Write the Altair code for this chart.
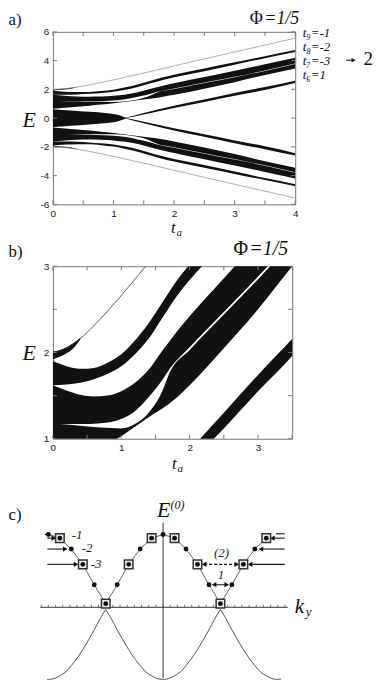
import altair as alt
import pandas as pd

SERIF = "Liberation Serif"
SANS = "Liberation Sans"
INK = "#111111"
FRAME = "#777777"

# ---------------- panels a/b: band edges of the upper half (E > 0) ----------------
t_grid = [0, 0.2, 0.4, 0.6, 0.8, 1.0, 1.2, 1.4, 1.6, 1.8, 2.0, 2.5, 3.0, 3.5, 4.0]
t9_line = [2.0, 2.05, 2.16, 2.31, 2.48, 2.66, 2.85, 3.04, 3.23, 3.43, 3.63, 4.12, 4.6, 5.08, 5.56]
t8_hi = [1.9, 1.84, 1.81, 1.82, 1.88, 1.98, 2.14, 2.34, 2.58, 2.82, 3.02, 3.45, 3.88, 4.31, 4.74]
t8_lo = [1.62, 1.63, 1.65, 1.69, 1.75, 1.84, 1.98, 2.16, 2.4, 2.64, 2.84, 3.26, 3.72, 4.17, 4.6]
t7_hi = [1.62, 1.56, 1.51, 1.49, 1.5, 1.55, 1.65, 1.8, 2.02, 2.23, 2.42, 2.86, 3.3, 3.74, 4.2]
t7_lo = [0.66, 0.72, 0.79, 0.86, 0.94, 1.03, 1.14, 1.25, 1.35, 1.47, 1.62, 2.05, 2.5, 3.0, 3.46]

t_blob = [0, 0.1, 0.2, 0.3, 0.4]
blob_hi = [2.01, 2.03, 2.06, 2.11, 2.17]
blob_lo = [1.92, 1.95, 1.99, 2.05, 2.15]

t_gap = [0.1, 0.4, 0.7, 1.0, 1.2, 1.4, 1.6, 1.71, 2.0, 2.5, 3.0, 3.5, 4.0]
gap_hi = [1.17, 1.17, 1.18, 1.23, 1.32, 1.48, 1.68, 1.81, 2.06, 2.47, 2.88, 3.31, 3.8]
gap_lo = [1.17, 1.15, 1.13, 1.12, 1.17, 1.3, 1.55, 1.77, 2.03, 2.44, 2.85, 3.28, 3.77]

t_mid = [0, 0.3, 0.6, 0.9, 1.05, 1.15, 1.22]
mid_hi = [0.62, 0.53, 0.44, 0.34, 0.25, 0.12, 0.0]

t_t6 = [1.2, 1.5, 2.0, 2.5, 3.0, 3.5, 4.0]
t6_hi = [0.02, 0.36, 0.86, 1.3, 1.74, 2.16, 2.6]
t6_lo = [0.0, 0.26, 0.71, 1.12, 1.55, 1.96, 2.44]

a_xlabels = [0, 1, 2, 3, 4]
a_ylabels = [-6, -4, -2, 0, 2, 4, 6]
a_xticks = [0, 0.5, 1, 1.5, 2, 2.5, 3, 3.5, 4]
a_yticks = [-6, -4, -2, 0, 2, 4, 6]
b_xlabels = [0, 1, 2, 3]
b_ylabels = [1, 2, 3]
b_xticks = [0, 0.5, 1, 1.5, 2, 2.5, 3, 3.5]
b_yticks = [1, 1.5, 2, 2.5, 3]
band_labels = ["t₉=-1", "t₈=-2", "t₇=-3", "t₆=1"]

# ---------------- panel c ----------------
ky_pts = [-10, -9, -8, -7, -6, -5, -4, -3, -2, -1, 0, 1, 2, 3, 4, 5, 6, 7, 8, 9]
E_pts = [1.0, 0.95, 0.80, 0.59, 0.31, 0.05, 0.31, 0.59, 0.80, 0.95,
         1.0, 0.95, 0.80, 0.59, 0.31, 0.05, 0.31, 0.59, 0.80, 0.95]
ky_sq = [-9, -7, -5, -3, -1, 1, 3, 5, 7, 9]
ky_cos = [-10.1, -10.0, -9.5, -9.0, -8.5, -8.0, -7.5, -7.0, -6.5, -6.0, -5.5, -5.0,
          -4.5, -4.0, -3.5, -3.0, -2.5, -2.0, -1.5, -1.0, -0.5, 0.0,
          0.5, 1.0, 1.5, 2.0, 2.5, 3.0, 3.5, 4.0, 4.5, 5.0,
          5.5, 6.0, 6.5, 7.0, 7.5, 8.0, 8.5, 9.0, 9.5, 10.0, 10.3]
E_cos = [-0.99, -0.99, -0.98, -0.94, -0.89, -0.80, -0.70, -0.58, -0.45, -0.31, -0.16, -0.03,
         -0.16, -0.31, -0.45, -0.58, -0.70, -0.80, -0.89, -0.94, -0.98, -0.99,
         -0.98, -0.94, -0.89, -0.80, -0.70, -0.58, -0.45, -0.31, -0.16, -0.03,
         -0.16, -0.31, -0.45, -0.58, -0.70, -0.80, -0.89, -0.94, -0.98, -0.99, -0.985]
cusps = [-5.0, 5.0]
ky_ticks = [round(-10.625 + 0.625 * i, 3) for i in range(35)]
# arrows: (start k, end k, E, head k, head shape)
arrows = [
    (-10.09, -9.53, 0.95, -9.53, "triangle-right"),
    (-10.09, -8.53, 0.80, -8.53, "triangle-right"),
    (-10.09, -7.59, 0.59, -7.59, "triangle-right"),
    (10.6, 9.53, 0.95, 9.53, "triangle-left"),
    (10.6, 8.53, 0.80, 8.53, "triangle-left"),
    (10.6, 7.59, 0.59, 7.59, "triangle-left"),
]
short_lines = [(-10.3, -10.0, 1.0), (9.85, 10.6, 1.01)]
double_arrows = [(3.58, 6.42, 0.59, True), (4.45, 5.55, 0.31, False)]
c_labels = [("-1", -7.5, 0.99), ("-2", -6.63, 0.81), ("-3", -5.84, 0.59),
            ("(2)", 5.1, 0.75), ("1", 5.05, 0.45)]


def rows(key, ts, hi, lo, mirror=True):
    out = []
    for t, h, l in zip(ts, hi, lo):
        out.append({"key": key + "+", "t": t, "hi": h, "lo": l})
        if mirror:
            out.append({"key": key + "-", "t": t, "hi": -l, "lo": -h})
    return out


black = pd.DataFrame(
    rows("blob", t_blob, blob_hi, blob_lo)
    + rows("t8", t_grid, t8_hi, t8_lo)
    + rows("t7", t_grid, t7_hi, t7_lo)
    + rows("t6", t_t6, t6_hi, t6_lo)
    + rows("mid", t_mid, mid_hi, [-v for v in mid_hi], mirror=False)
)
white = pd.DataFrame(rows("gap", t_gap, gap_hi, gap_lo))
line9 = pd.DataFrame(
    [{"key": "+", "t": t, "E": e} for t, e in zip(t_grid, t9_line)]
    + [{"key": "-", "t": t, "E": -e} for t, e in zip(t_grid, t9_line)]
)

one = pd.DataFrame({"a": [0]})


def label(txt, x, y, size=16, font=SERIF, style="normal", align="left",
          baseline="alphabetic", color="#111111"):
    return alt.Chart(one).mark_text(
        text=txt, font=font, fontSize=size, fontStyle=style, align=align,
        baseline=baseline, color=color
    ).encode(x=alt.value(x), y=alt.value(y))


def spectrum_panel(W, H, xdom, ydom, xlabels, ylabels, xticks, yticks,
                   line_color, line_width, texts):
    xs = alt.Scale(domain=xdom, nice=False, zero=False)
    ys = alt.Scale(domain=ydom, nice=False, zero=False)
    common = dict(ticks=False, domain=False, grid=False, title=None, labelFont=SANS,
                  labelFontSize=10, labelColor="#222222", labelExpr="'' + datum.value")
    xax = alt.Axis(values=xlabels, labelPadding=4, labelFlush=False, **common)
    yax = alt.Axis(values=ylabels, labelPadding=4, **common)

    def X(f):
        return alt.X(f, type="quantitative", scale=xs, axis=xax)

    def Y(f):
        return alt.Y(f, type="quantitative", scale=ys, axis=yax)

    areas = alt.Chart(black).mark_area(color=INK, clip=True, interpolate="monotone").encode(
        x=X("t"), y=Y("hi"), y2="lo", detail="key:N")
    gaps = alt.Chart(white).mark_area(color="white", clip=True, interpolate="monotone").encode(
        x=X("t"), y=Y("hi"), y2="lo", detail="key:N")
    lines = alt.Chart(line9).mark_line(color=line_color, strokeWidth=line_width, clip=True,
                                       interpolate="monotone").encode(
        x=X("t"), y=Y("E"), detail="key:N")
    xt = pd.DataFrame({"v": xticks})
    yt = pd.DataFrame({"v": yticks})
    tb = alt.Chart(xt).mark_rule(color=FRAME).encode(x=X("v"), y=alt.value(H), y2=alt.value(H - 4))
    tt = alt.Chart(xt).mark_rule(color=FRAME).encode(x=X("v"), y=alt.value(0), y2=alt.value(4))
    tl = alt.Chart(yt).mark_rule(color=FRAME).encode(y=Y("v"), x=alt.value(0), x2=alt.value(4))
    tr = alt.Chart(yt).mark_rule(color=FRAME).encode(y=Y("v"), x=alt.value(W), x2=alt.value(W - 4))
    return alt.layer(areas, gaps, lines, tb, tt, tl, tr, *texts).properties(
        width=W, height=H, view=alt.ViewBackground(stroke=FRAME, strokeWidth=1))


# ---------- panel a ----------
anchor = alt.Chart(one).mark_rule(strokeOpacity=0).encode(
    x=alt.value(-44.5), x2=alt.value(-44), y=alt.value(-22), y2=alt.value(-21))
arrow_a_shaft = alt.Chart(one).mark_rule(color=INK, strokeWidth=1).encode(
    x=alt.value(294), x2=alt.value(300), y=alt.value(28.5))
arrow_a_head = alt.Chart(one).mark_point(shape="triangle-right", filled=True, size=22,
                                         color=INK, opacity=1).encode(
    x=alt.value(301.5), y=alt.value(28.5))
texts_a = [
    anchor,
    label("a)", -44.5, -7, size=17),
    label("Φ", 197.5, -8, size=18),
    label("=1/5", 212, -8, size=18, style="italic"),
    label("E", -30.5, 95, size=22, style="italic"),
    label("t", 118.5, 202, size=17, style="italic"),
    label("a", 124, 205, size=11, style="italic"),
    arrow_a_shaft, arrow_a_head,
    label("2", 311.5, 33.5, size=19),
]
for txt, yb in zip(band_labels, [5, 19, 33, 47]):
    texts_a.append(label(txt, 250.5, yb, size=13, style="italic"))

panel_a = spectrum_panel(243, 173, [0, 4], [-6, 6], a_xlabels, a_ylabels, a_xticks, a_yticks,
                         "#8a8a8a", 0.7, texts_a)

# ---------- panel b ----------
texts_b = [
    label("b)", -44.5, -9, size=17),
    label("Φ", 181, -11, size=20),
    label("=1/5", 197, -11, size=20, style="italic"),
    label("E", -30.5, 94, size=22, style="italic"),
    label("t", 119.5, 203, size=17, style="italic"),
    label("a", 125, 206, size=11, style="italic"),
]
panel_b = spectrum_panel(240, 173, [0, 3.5], [1, 3], b_xlabels, b_ylabels, b_xticks, b_yticks,
                         "#333333", 0.8, texts_b)

# ---------- panel c ----------
KL = (52.5 - 163) / 11.5
KR = KL + 243 / 11.5
xs_c = alt.Scale(domain=[KL, KR], nice=False, zero=False)
ys_c = alt.Scale(domain=[-1.0, 1.466], nice=False, zero=False)


def XC(f):
    return alt.X(f, type="quantitative", scale=xs_c, axis=None)


def YC(f):
    return alt.Y(f, type="quantitative", scale=ys_c, axis=None)


pts = pd.DataFrame({"k": ky_pts, "E": E_pts})
sq = pts[pts["k"].isin(ky_sq)]
cos_rows = []
seg = 0
for k, e in zip(ky_cos, E_cos):
    cos_rows.append({"k": k, "E": e, "seg": seg})
    if k in cusps:
        seg += 1
        cos_rows.append({"k": k, "E": e, "seg": seg})
cos_df = pd.DataFrame(cos_rows)

axes_h = alt.Chart(pd.DataFrame({"k1": [-10.7], "k2": [10.87], "E": [0.0]})).mark_rule(
    color="#333333", strokeWidth=1).encode(x=XC("k1"), x2="k2", y=YC("E"))
axes_v = alt.Chart(pd.DataFrame({"k": [0.0], "E1": [-0.97], "E2": [1.164]})).mark_rule(
    color="#333333", strokeWidth=1).encode(x=XC("k"), y=YC("E1"), y2="E2")
tick_c = alt.Chart(pd.DataFrame({"k": ky_ticks, "E1": 0.0, "E2": 0.035})).mark_rule(
    color="#555555", strokeWidth=0.8).encode(x=XC("k"), y=YC("E1"), y2="E2")
poly = alt.Chart(pts).mark_line(color="#555555", strokeWidth=0.9).encode(
    x=XC("k"), y=YC("E"), order="k:Q")
cosl = alt.Chart(cos_df).mark_line(color="#444444", strokeWidth=0.9, interpolate="monotone").encode(
    x=XC("k"), y=YC("E"), detail="seg:N", order="k:Q")
squares = alt.Chart(sq).mark_square(size=74, fill="#eeeeee", stroke="#333333", strokeWidth=1.5,
                                    opacity=1).encode(x=XC("k"), y=YC("E"))
dots = alt.Chart(pts).mark_circle(size=24, color=INK, opacity=1).encode(x=XC("k"), y=YC("E"))

arr_df = pd.DataFrame([{"k1": a[0], "k2": a[1], "E": a[2], "kh": a[3], "shape": a[4]} for a in arrows])
arr_sh = alt.Chart(arr_df).mark_rule(color=INK, strokeWidth=1.1).encode(
    x=XC("k1"), x2="k2", y=YC("E"))
arr_hd = alt.Chart(arr_df).mark_point(filled=True, size=28, color=INK, opacity=1).encode(
    x=XC("kh"), y=YC("E"), shape=alt.Shape("shape:N", scale=None))
sl_df = pd.DataFrame([{"k1": s[0], "k2": s[1], "E": s[2]} for s in short_lines])
sl = alt.Chart(sl_df).mark_rule(color=INK, strokeWidth=1.1).encode(x=XC("k1"), x2="k2", y=YC("E"))

dbl = []
for k1, k2, e, dashed in double_arrows:
    d = pd.DataFrame({"k1": [k1], "k2": [k2], "E": [e]})
    rule = alt.Chart(d).mark_rule(color=INK, strokeWidth=1.1,
                                  strokeDash=[3, 2] if dashed else [1, 0]).encode(
        x=XC("k1"), x2="k2", y=YC("E"))
    h = pd.DataFrame({"k": [k1, k2], "E": [e, e], "shape": ["triangle-left", "triangle-right"]})
    heads = alt.Chart(h).mark_point(filled=True, size=28, color=INK, opacity=1).encode(
        x=XC("k"), y=YC("E"), shape=alt.Shape("shape:N", scale=None))
    dbl += [rule, heads]

lab_df = pd.DataFrame([{"txt": t, "k": k, "E": e} for t, k, e in c_labels])
labs = alt.Chart(lab_df).mark_text(font=SERIF, fontSize=13, fontStyle="italic", color="#222222",
                                   align="center", baseline="middle").encode(
    x=XC("k"), y=YC("E"), text="txt:N")

texts_c = [
    label("c)", -44.5, 19, size=17),
    label("E", 104.5, 16, size=22, style="italic"),
    label("(0)", 118, 8, size=12, style="italic"),
    label("k", 242.5, 113, size=21, style="italic"),
    label("y", 253.5, 116, size=13, style="italic"),
]

panel_c = alt.layer(axes_h, axes_v, tick_c, cosl, poly, sl, arr_sh, arr_hd, *dbl,
                    squares, dots, labs, *texts_c).properties(width=243, height=180)

chart = alt.vconcat(panel_a, panel_b, panel_c, spacing=62, bounds="flush").properties(
    padding=0
).configure_view(stroke="transparent")

chart.save("out.html", embed_options={"renderer": "svg", "actions": False})
